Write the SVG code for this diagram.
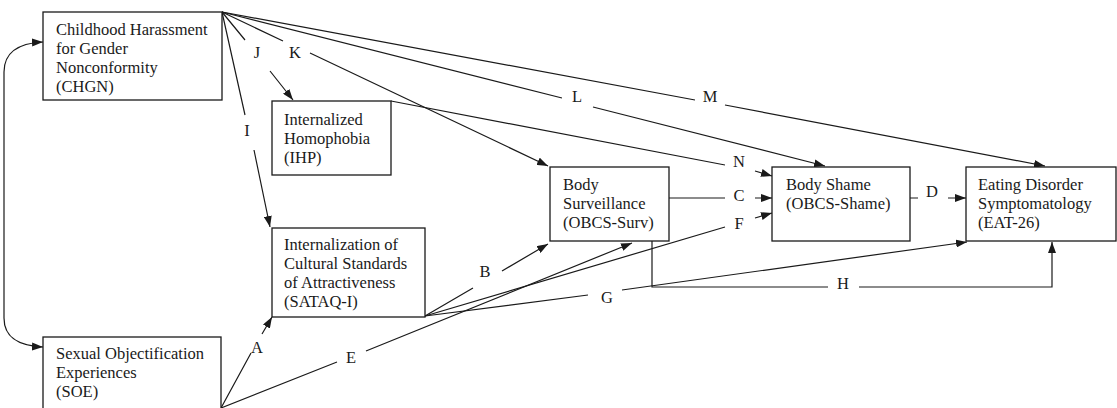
<svg xmlns="http://www.w3.org/2000/svg" width="1117" height="408" viewBox="0 0 1117 408">
<style>
  .box { fill: #ffffff; stroke: #1a1a1a; stroke-width: 1.3; }
  .t { font-family: "Liberation Serif", "Times New Roman", serif; font-size: 16.5px; fill: #1a1a1a; }
  .lbl { font-family: "Liberation Serif", "Times New Roman", serif; font-size: 16.5px; fill: #1a1a1a; text-anchor: middle; }
  .c { fill: none; stroke: #1a1a1a; stroke-width: 1.2; }
  .a { marker-end: url(#arr); }
</style>
<defs>
  <marker id="arr" markerUnits="userSpaceOnUse" markerWidth="11" markerHeight="8" refX="11" refY="4" orient="auto-start-reverse">
    <path d="M0,0 L11,4 L0,8 z" fill="#1a1a1a"/>
  </marker>
</defs>
<rect width="1117" height="408" fill="#ffffff"/>

<g id="connectors">
  <path class="c" d="M43,42 C22,43 4,50 4,72 L4,318 C4,340 22,346 43,347" marker-start="url(#arr)" marker-end="url(#arr)"/>
  <path class="c a" d="M222,12 L245,115 M254,150 L270,227"/>
  <path class="c a" d="M222,12 L245,40 M270,71 L293,100"/>
  <path class="c a" d="M222,12 L283,41 M310,53 L548,166"/>
  <path class="c a" d="M222,12 L562,98 M593,107 L825,166"/>
  <path class="c a" d="M222,12 L695,100 M725,105 L1045,166"/>
  <path class="c a" d="M391,101 L725,165 M755,171 L772,176"/>
  <path class="c a" d="M669,198 L725,198 M755,198 L772,198"/>
  <path class="c a" d="M425,316 L725,227 M755,218 L772,213"/>
  <path class="c a" d="M910,198 L918,198 M948,198 L966,198"/>
  <path class="c a" d="M652,241 L652,287 L828,287 M859,287 L1052,287 L1052,242"/>
  <path class="c a" d="M425,316 L588,295 M622,290 L967,242"/>
  <path class="c a" d="M425,316 L473,288 M502,271 L548,244"/>
  <path class="c a" d="M221,408 L337,362 M366,351 L632,243"/>
  <path class="c a" d="M221,408 L251,353 M262,334 L272,317"/>
  <text class="lbl" x="247" y="135.5">I</text>
  <text class="lbl" x="257" y="57.5">J</text>
  <text class="lbl" x="295" y="57.5">K</text>
  <text class="lbl" x="577" y="101.5">L</text>
  <text class="lbl" x="710" y="101.5">M</text>
  <text class="lbl" x="739" y="166.5">N</text>
  <text class="lbl" x="739" y="200.5">C</text>
  <text class="lbl" x="739" y="229">F</text>
  <text class="lbl" x="932" y="196.5">D</text>
  <text class="lbl" x="843" y="289">H</text>
  <text class="lbl" x="607" y="302.5">G</text>
  <text class="lbl" x="485" y="277">B</text>
  <text class="lbl" x="257" y="353">A</text>
  <text class="lbl" x="351" y="363">E</text>
</g>

<g id="chgn">
  <rect class="box" x="43" y="12" width="179" height="88"/>
  <text class="t" x="56" y="35">Childhood Harassment</text>
  <text class="t" x="56" y="54">for Gender</text>
  <text class="t" x="56" y="73">Nonconformity</text>
  <text class="t" x="56" y="92">(CHGN)</text>
</g>

<g id="ihp">
  <rect class="box" x="272" y="101" width="119" height="74"/>
  <text class="t" x="284" y="125">Internalized</text>
  <text class="t" x="284" y="144">Homophobia</text>
  <text class="t" x="284" y="163">(IHP)</text>
</g>

<g id="sataq">
  <rect class="box" x="272" y="228" width="153" height="89"/>
  <text class="t" x="284" y="250">Internalization of</text>
  <text class="t" x="284" y="269">Cultural Standards</text>
  <text class="t" x="284" y="288">of Attractiveness</text>
  <text class="t" x="284" y="307">(SATAQ-I)</text>
</g>

<g id="soe">
  <rect class="box" x="43" y="337" width="178" height="75"/>
  <text class="t" x="56" y="359">Sexual Objectification</text>
  <text class="t" x="56" y="378">Experiences</text>
  <text class="t" x="56" y="397">(SOE)</text>
</g>

<g id="obcs-surv">
  <rect class="box" x="550" y="167" width="119" height="74"/>
  <text class="t" x="563" y="190">Body</text>
  <text class="t" x="563" y="209">Surveillance</text>
  <text class="t" x="563" y="228">(OBCS-Surv)</text>
</g>

<g id="obcs-shame">
  <rect class="box" x="772" y="167" width="138" height="74"/>
  <text class="t" x="786" y="190">Body Shame</text>
  <text class="t" x="786" y="209">(OBCS-Shame)</text>
</g>

<g id="eat26">
  <rect class="box" x="966" y="167" width="150" height="74"/>
  <text class="t" x="978" y="190">Eating Disorder</text>
  <text class="t" x="978" y="209">Symptomatology</text>
  <text class="t" x="978" y="228">(EAT-26)</text>
</g>
</svg>
